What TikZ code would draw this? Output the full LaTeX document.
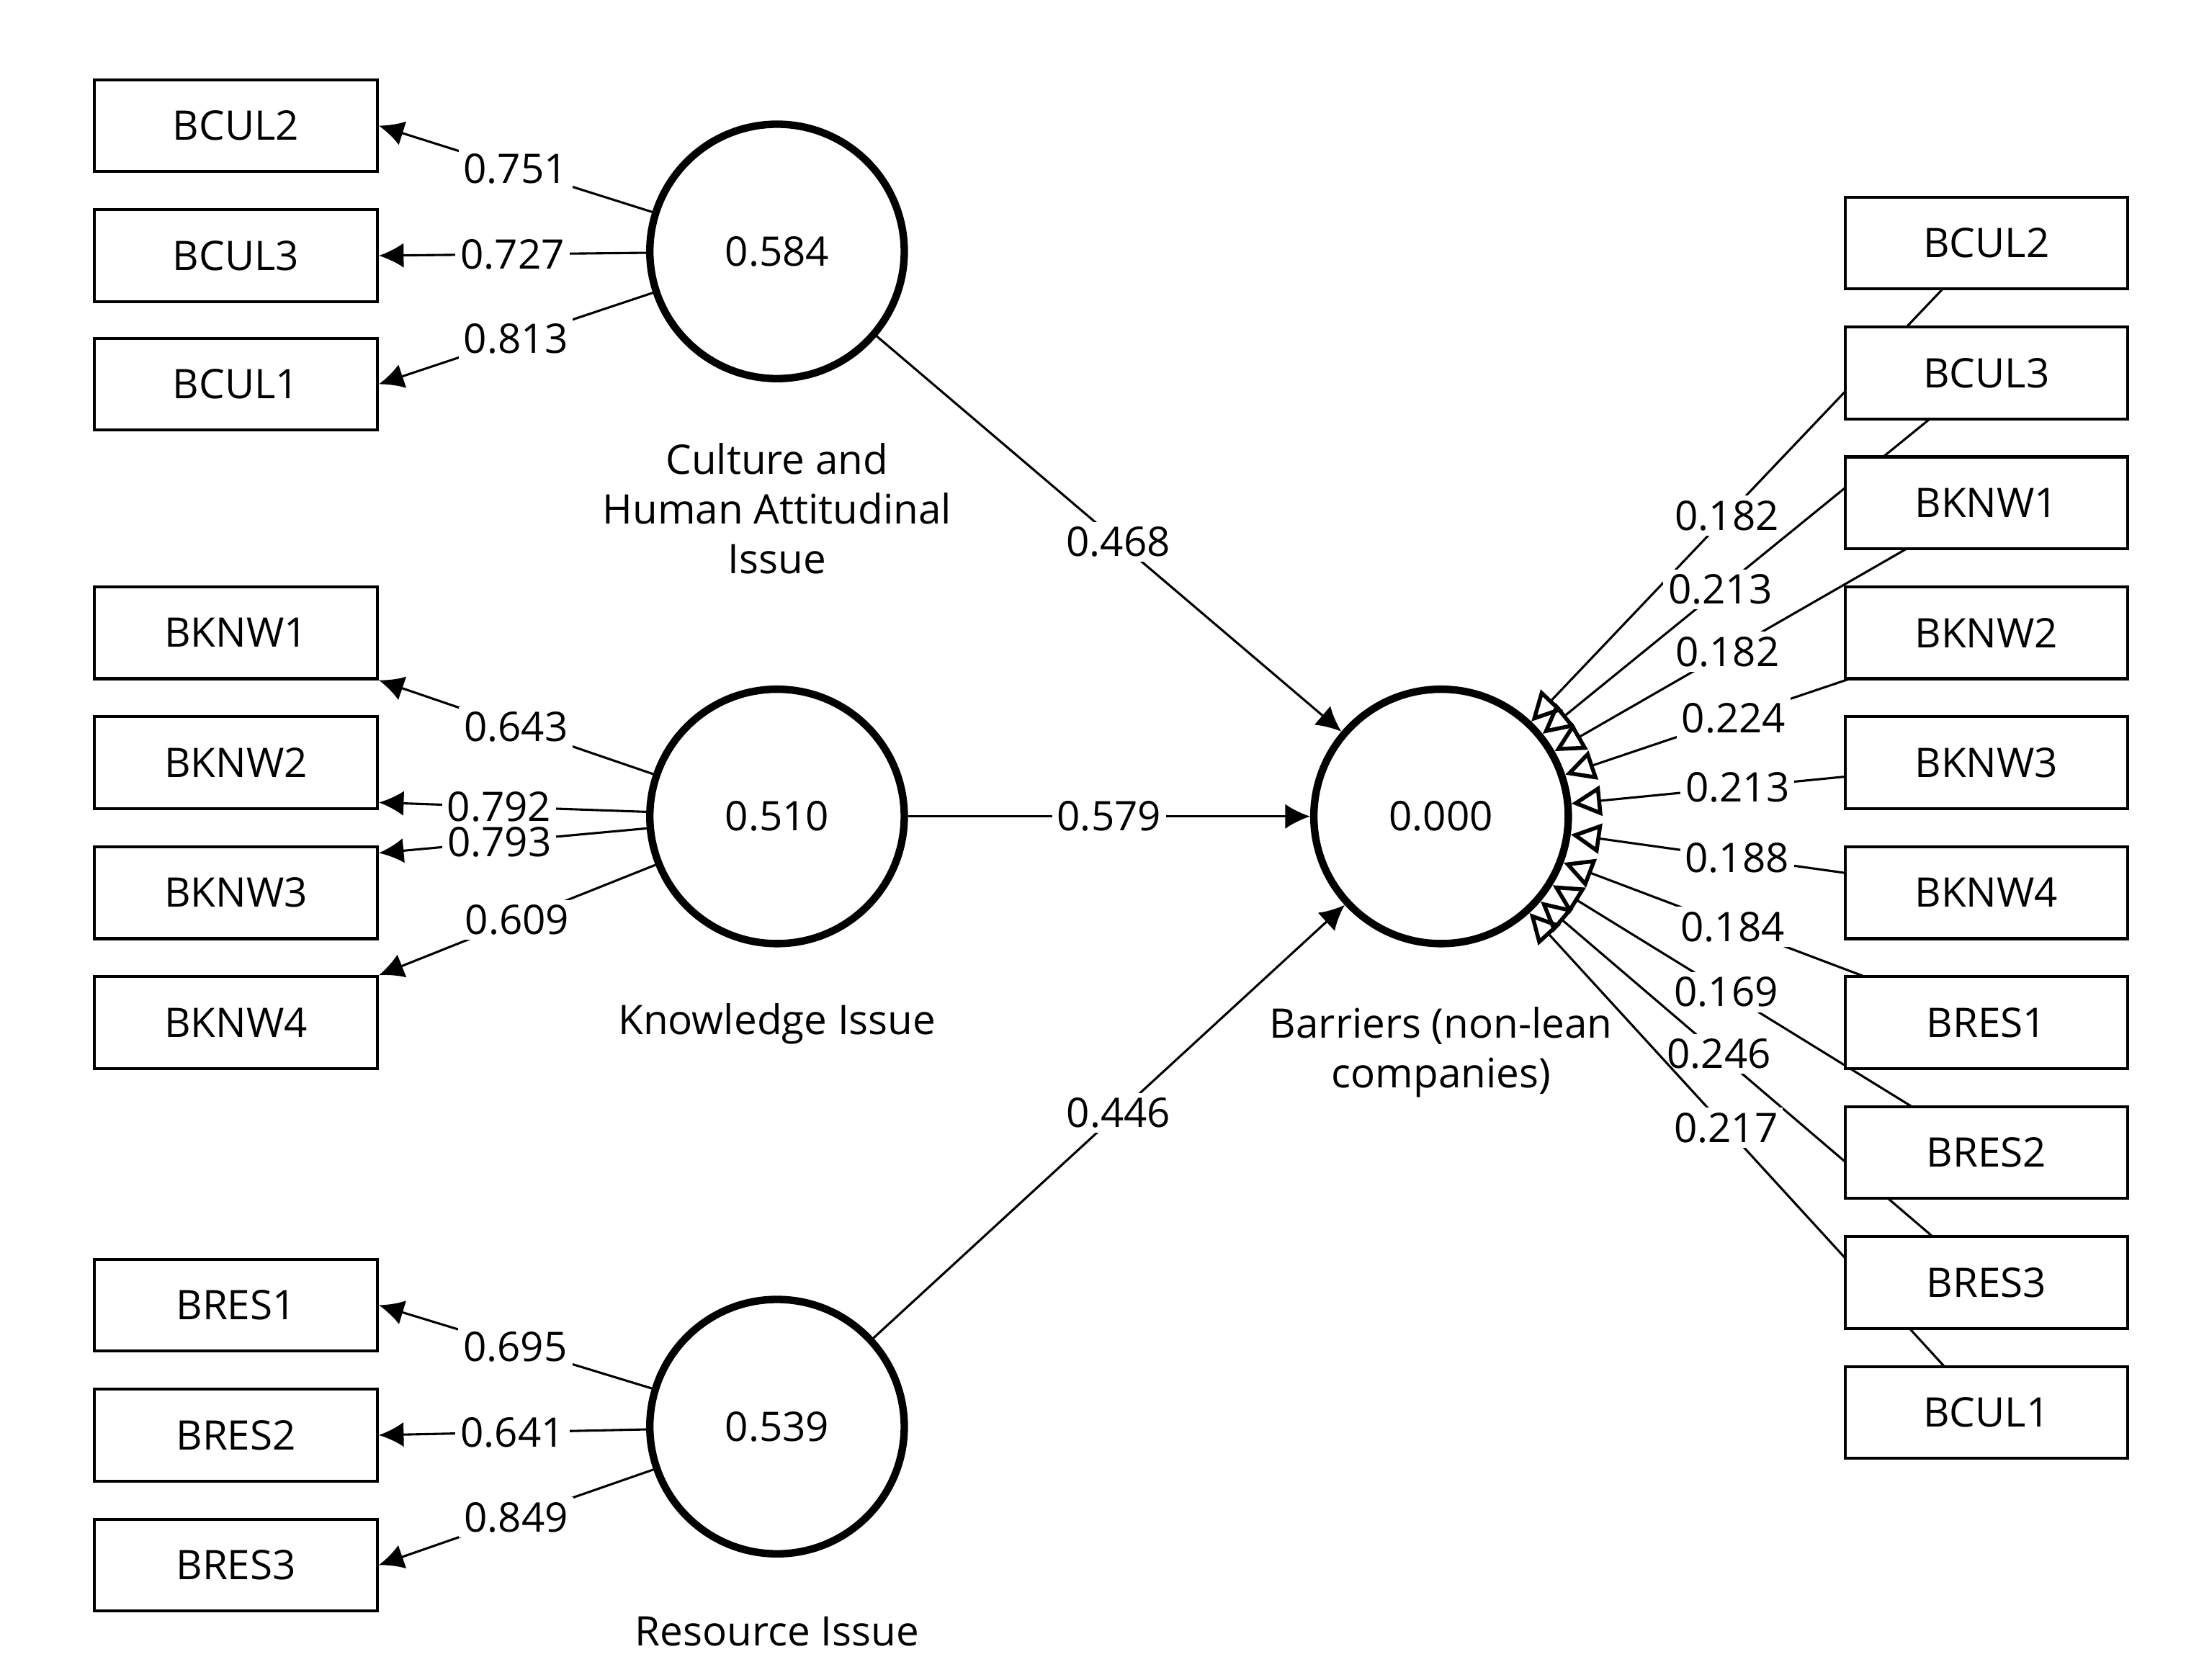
\documentclass[tikz,border=0pt]{standalone}
\usepackage{fontspec}
\setmainfont{Open Sans}
\usetikzlibrary{arrows.meta,positioning}

\begin{document}
\begin{tikzpicture}[x=0.01cm,y=-0.01cm,font=\fontsize{8.2pt}{10pt}\selectfont,
  ind/.style={draw,line width=0.6pt,fill=white,minimum width=2cm,minimum height=0.65cm,inner sep=0pt},
  lat/.style={draw,circle,line width=1.5pt,minimum size=1.8cm,inner sep=0pt},
  coef/.style={fill=white,inner sep=1pt},
  loadarr/.style={-{Latex[length=5pt,width=5pt]},line width=0.45pt},
  wgtarr/.style={-{Triangle[open,length=6pt,width=6pt,line width=0.8pt]},line width=0.45pt}]
\useasboundingbox (0,0) rectangle (1560,1189);

% latent variables
\node[lat] (CUL) at (550,178)  {0.584};
\node[lat] (KNW) at (550,578)  {0.510};
\node[lat] (RES) at (550,1010) {0.539};
\node[lat] (BAR) at (1020,578) {0.000};
\node[align=center] at (550,360)  {Culture and\\Human Attitudinal\\Issue};
\node at (550,725)  {Knowledge Issue};
\node at (550,1155) {Resource Issue};
\node[align=center] at (1020,745) {Barriers (non-lean\\companies)};

% structural paths
\path[loadarr]
  (CUL) edge node[coef,pos=0.52] {0.468} (BAR)
  (KNW) edge node[coef] {0.579} (BAR)
  (RES) edge node[coef,pos=0.52] {0.446} (BAR);

% left indicators
\node[ind] (cul2) at (167,89)   {BCUL2};
\node[ind] (cul3) at (167,181)  {BCUL3};
\node[ind] (cul1) at (167,272)  {BCUL1};
\node[ind] (knw1) at (167,448)  {BKNW1};
\node[ind] (knw2) at (167,540)  {BKNW2};
\node[ind] (knw3) at (167,632)  {BKNW3};
\node[ind] (knw4) at (167,724)  {BKNW4};
\node[ind] (res1) at (167,924)  {BRES1};
\node[ind] (res2) at (167,1016) {BRES2};
\node[ind] (res3) at (167,1108) {BRES3};

\path[loadarr]
  (CUL) edge node[coef] {0.751} (cul2.east)
  (CUL) edge node[coef] {0.727} (cul3.east)
  (CUL) edge node[coef] {0.813} (cul1.east)
  (KNW) edge node[coef] {0.643} (knw1.south east)
  (KNW) edge node[coef,pos=0.55] {0.792} ([yshift=-8]knw2.east)
  (KNW) edge node[coef,pos=0.55] {0.793} ([yshift=8]knw3.east)
  (KNW) edge node[coef] {0.609} (knw4.north east)
  (RES) edge node[coef] {0.695} (res1.east)
  (RES) edge node[coef] {0.641} (res2.east)
  (RES) edge node[coef] {0.849} (res3.east);

% right indicators (lines first, boxes on top)
\coordinate (rcul2) at (1406,172);
\coordinate (rcul3) at (1406,264);
\coordinate (rknw1) at (1406,356);
\coordinate (rknw2) at (1406,448);
\coordinate (rknw3) at (1406,540);
\coordinate (rknw4) at (1406,632);
\coordinate (rres1) at (1406,724);
\coordinate (rres2) at (1406,816);
\coordinate (rres3) at (1406,908);
\coordinate (rcul1) at (1406,1000);

\path[wgtarr]
  (rcul2) edge node[coef,pos=0.57] {0.182} (BAR)
  (rcul3) edge node[coef,pos=0.6] {0.213} (BAR)
  (rknw1) edge node[coef,pos=0.6] {0.182} (BAR)
  (rknw2) edge node[coef,pos=0.6] {0.224} (BAR)
  (rknw3) edge node[coef,pos=0.6] {0.213} (BAR)
  (rknw4) edge node[coef,pos=0.6] {0.188} (BAR)
  (rres1) edge node[coef,pos=0.6] {0.184} (BAR)
  (rres2) edge node[coef,pos=0.6] {0.169} (BAR)
  (rres3) edge node[coef,pos=0.6] {0.246} (BAR)
  (rcul1) edge node[coef,pos=0.57] {0.217} (BAR);

\node[ind] at (rcul2) {BCUL2};
\node[ind] at (rcul3) {BCUL3};
\node[ind] at (rknw1) {BKNW1};
\node[ind] at (rknw2) {BKNW2};
\node[ind] at (rknw3) {BKNW3};
\node[ind] at (rknw4) {BKNW4};
\node[ind] at (rres1) {BRES1};
\node[ind] at (rres2) {BRES2};
\node[ind] at (rres3) {BRES3};
\node[ind] at (rcul1) {BCUL1};
\end{tikzpicture}
\end{document}
